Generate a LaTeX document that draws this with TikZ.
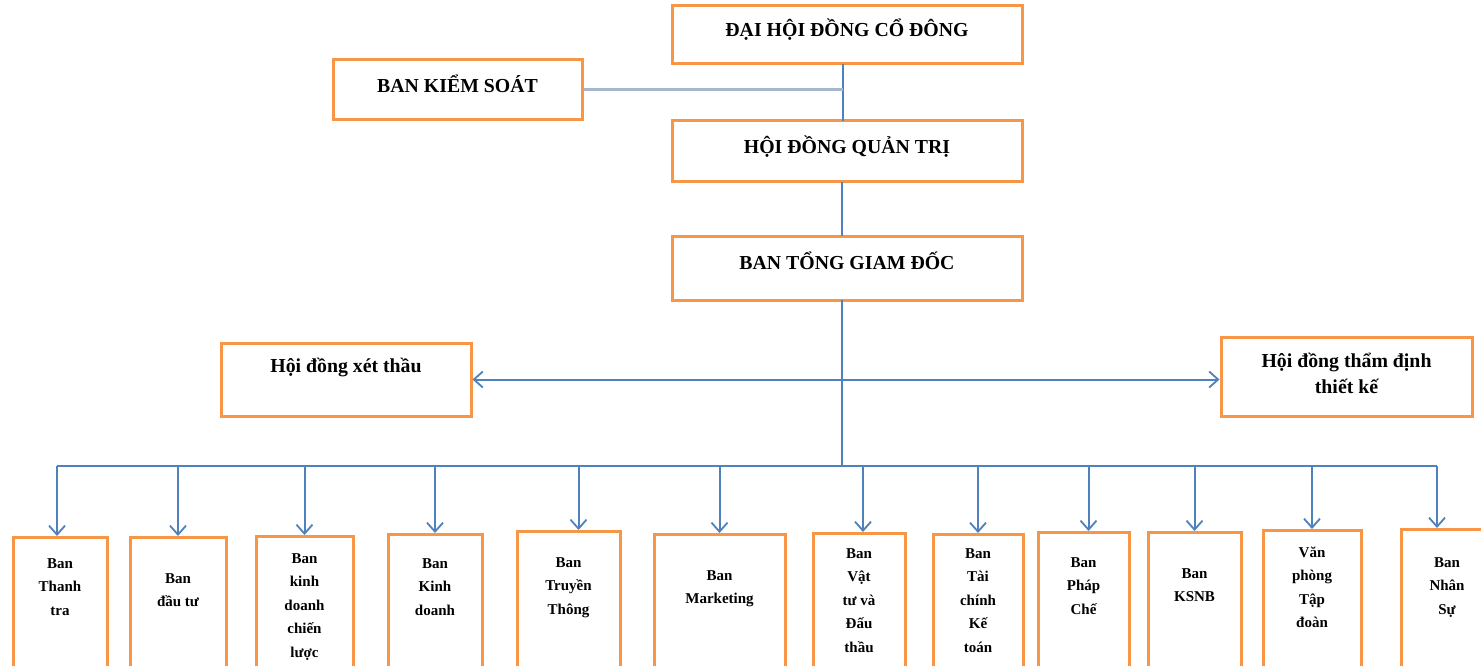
\documentclass[tikz,border=0pt]{standalone}
\usepackage{fontspec}
\setmainfont{Liberation Serif}
\usetikzlibrary{arrows.meta}
\definecolor{boxorange}{RGB}{247,150,70}
\definecolor{lineblue}{RGB}{79,129,189}
\definecolor{paleline}{RGB}{165,182,205}
\tikzset{
  hbox/.style={draw=boxorange, line width=3pt, fill=white, inner sep=0pt},
  htext/.style={font=\bfseries\fontsize{19.8}{26}\selectfont, align=center, inner sep=0pt},
  btext/.style={font=\bfseries\fontsize{15}{23.5}\selectfont, align=center, inner sep=0pt, anchor=north},
  conn/.style={draw=lineblue, line width=2pt},
  arr/.style={conn, -{Straight Barb[length=9pt,width=16pt,line width=1.8pt]}},
  darr/.style={conn, {Straight Barb[length=9pt,width=16pt,line width=1.8pt]}-{Straight Barb[length=9pt,width=16pt,line width=1.8pt]}}
}
\newcommand{\fl}{\rule{0pt}{12pt}}
\begin{document}
\begin{tikzpicture}[x=1pt,y=-1pt]
\useasboundingbox (0,0) rectangle (1481,666);
\clip (0,0) rectangle (1481,666);
\fill[white] (0,0) rectangle (1481,666);

% top boxes
\node[hbox, minimum width=350pt, minimum height=58pt, label={[htext,yshift=5pt]center:ĐẠI HỘI ĐỒNG CỔ ĐÔNG}] (dhd) at (847,35) {};
\node[hbox, minimum width=249pt, minimum height=60pt, label={[htext,yshift=6pt]center:BAN KIỂM SOÁT}] (bks) at (457.5,90) {};
\node[hbox, minimum width=350pt, minimum height=61pt, label={[htext,yshift=5pt]center:HỘI ĐỒNG QUẢN TRỊ}] (hdqt) at (847,151.5) {};
\node[hbox, minimum width=350pt, minimum height=64pt, label={[htext,yshift=7pt]center:BAN TỔNG GIAM ĐỐC}] (btgd) at (847,268) {};
\node[hbox, minimum width=250pt, minimum height=73pt, label={[htext,yshift=12pt]center:Hội đồng xét thầu}] (hdxt) at (346,379.5) {};
\node[hbox, minimum width=251pt, minimum height=79pt, label={[htext,yshift=3pt]center:Hội đồng thẩm định\\thiết kế}] (hdtd) at (1346.5,376.5) {};

% spine coordinates
\coordinate (sp1) at (843,64);
\coordinate (sp2) at (843,121);
\coordinate (sp3) at (842,182);
\coordinate (sp4) at (842,236);
\coordinate (sp5) at (842,300);
\coordinate (bus) at (842,466);

\draw[conn, line width=1.2pt] (sp1) -- (sp2);
\draw[paleline, line width=3pt] (bks.east) -- (bks.east -| sp1);
\draw[conn, line width=1.5pt] (sp3) -- (sp4);
\draw[conn] (sp5) -- (bus);
\draw[darr] (hdxt.east) -- (hdxt.east -| hdtd.west);

% bottom boxes
\node[hbox, minimum width=94pt, minimum height=160pt, anchor=north] (b1) at (60,536) {};
\node[hbox, minimum width=96pt, minimum height=160pt, anchor=north] (b2) at (178,536) {};
\node[hbox, minimum width=97pt, minimum height=160pt, anchor=north] (b3) at (304.5,535) {};
\node[hbox, minimum width=94pt, minimum height=160pt, anchor=north] (b4) at (435,533) {};
\node[hbox, minimum width=103pt, minimum height=160pt, anchor=north] (b5) at (568.5,530) {};
\node[hbox, minimum width=131pt, minimum height=160pt, anchor=north] (b6) at (719.5,533) {};
\node[hbox, minimum width=92pt, minimum height=160pt, anchor=north] (b7) at (859,532) {};
\node[hbox, minimum width=90pt, minimum height=160pt, anchor=north] (b8) at (978,533) {};
\node[hbox, minimum width=91pt, minimum height=160pt, anchor=north] (b9) at (1083.5,531) {};
\node[hbox, minimum width=93pt, minimum height=160pt, anchor=north] (b10) at (1194.5,531) {};
\node[hbox, minimum width=98pt, minimum height=160pt, anchor=north] (b11) at (1312,529) {};
\node[hbox, minimum width=92pt, minimum height=160pt, anchor=north] (b12) at (1447,528) {};

% bottom texts
\node[btext] (t1) at (60,556) {\fl Ban\\Thanh\\tra};
\node[btext] (t2) at (178,571) {\fl Ban\\đầu tư};
\node[btext] (t3) at (304.5,551) {\fl Ban\\kinh\\doanh\\chiến\\lược};
\node[btext] (t4) at (435,556) {\fl Ban\\Kinh\\doanh};
\node[btext] (t5) at (568.5,555) {\fl Ban\\Truyền\\Thông};
\node[btext] (t6) at (719.5,568) {\fl Ban\\Marketing};
\node[btext] (t7) at (859,546) {\fl Ban\\Vật\\tư và\\Đấu\\thầu};
\node[btext] (t8) at (978,546) {\fl Ban\\Tài\\chính\\Kế\\toán};
\node[btext] (t9) at (1083.5,555) {\fl Ban\\Pháp\\Chế};
\node[btext] (t10) at (1194.5,566) {\fl Ban\\KSNB};
\node[btext] (t11) at (1312,545) {\fl Văn\\phòng\\Tập\\đoàn};
\node[btext] (t12) at (1447,555) {\fl Ban\\Nhân\\Sự};

% bus line and arrows
\coordinate (busL) at (57,466);
\coordinate (busR) at (1437,466);
\draw[conn] (busL) -- (busR);
\draw[arr] (busL) -- (busL |- b1.north);
\draw[arr] (b2.north |- bus) -- (b2.north);
\draw[arr] (b3.north |- bus) -- (b3.north);
\draw[arr] (b4.north |- bus) -- (b4.north);
\draw[arr] ([xshift=10pt]b5.north |- bus) -- ([xshift=10pt]b5.north);
\draw[arr] (b6.north |- bus) -- (b6.north);
\draw[arr] ([xshift=4pt]b7.north |- bus) -- ([xshift=4pt]b7.north);
\draw[arr] (b8.north |- bus) -- (b8.north);
\draw[arr] ([xshift=5pt]b9.north |- bus) -- ([xshift=5pt]b9.north);
\draw[arr] (b10.north |- bus) -- (b10.north);
\draw[arr] (b11.north |- bus) -- (b11.north);
\draw[arr] (busR) -- (busR |- b12.north);
\end{tikzpicture}
\end{document}
